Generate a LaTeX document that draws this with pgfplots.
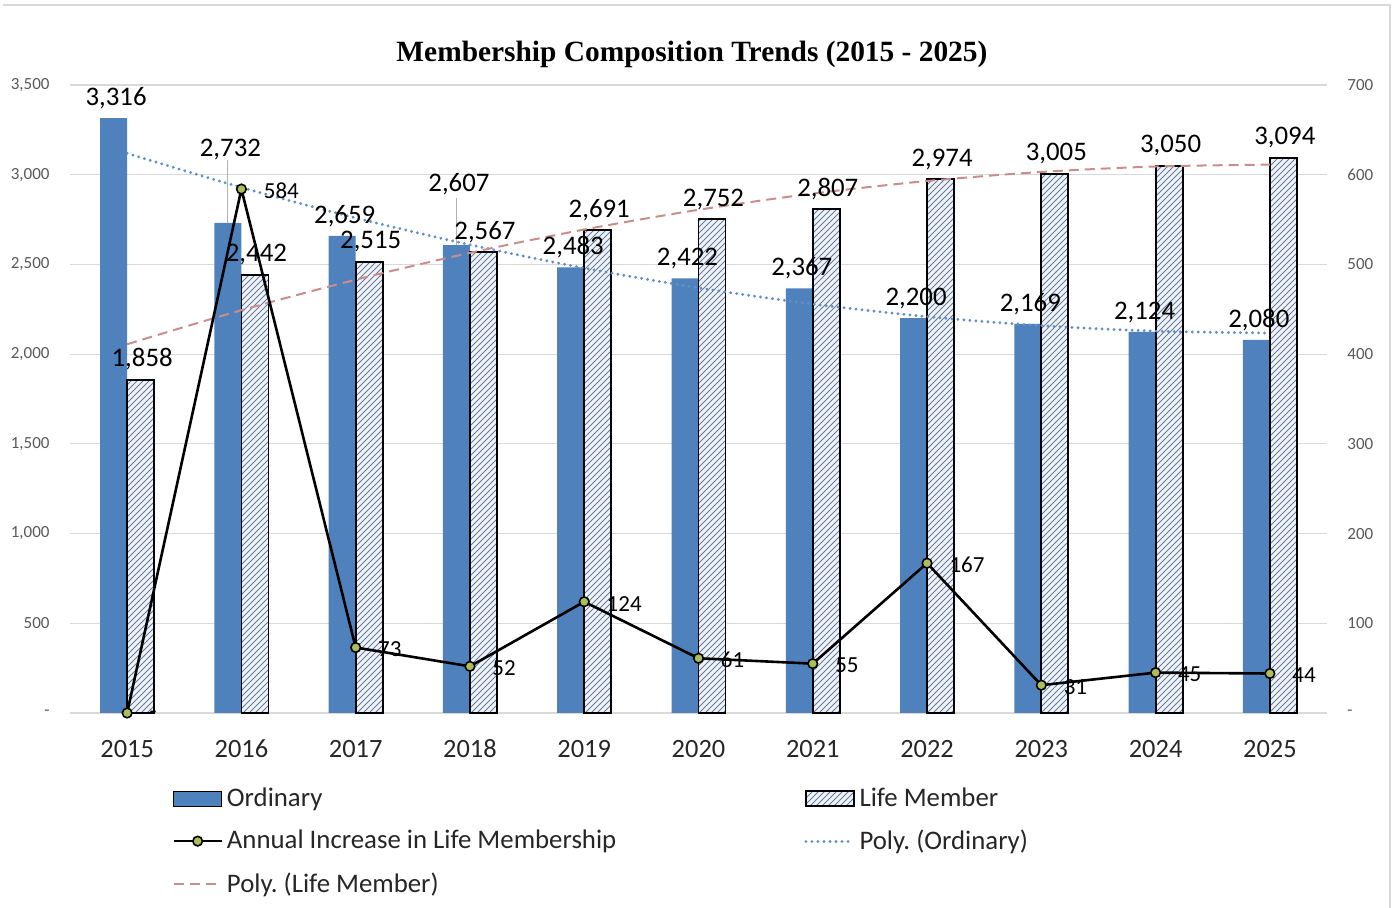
\documentclass[border=0pt]{standalone}
\usepackage{fontspec}
\setmainfont{Carlito}
\newfontfamily\titlefont{Liberation Serif}
\usepackage{pgfplots}
\usepackage{pgfplotstable}
\pgfplotsset{compat=1.18}
\usetikzlibrary{patterns}
\frenchspacing

\definecolor{ordblue}{RGB}{79,129,189}
\definecolor{hatch}{RGB}{105,125,155}
\definecolor{hatchbg}{RGB}{240,244,250}
\definecolor{trendblue}{RGB}{95,145,200}
\definecolor{trendrose}{RGB}{205,140,140}
\definecolor{markgreen}{RGB}{170,190,90}
\definecolor{gridgrey}{RGB}{217,217,217}
\definecolor{ticktext}{RGB}{89,89,89}
\definecolor{labeltext}{RGB}{38,38,38}

% members per year; lift = extra raise of the Ordinary label (pt)
\pgfplotstableread{
idx year ordinary life lift
0  2015 3316 1858 1
1  2016 2732 2442 28
2  2017 2659 2515 1
3  2018 2607 2567 21.5
4  2019 2483 2691 1
5  2020 2422 2752 1
6  2021 2367 2807 1
7  2022 2200 2974 1
8  2023 2169 3005 1
9  2024 2124 3050 1
10 2025 2080 3094 1
}\membership

\pgfplotstableread{
idx inc lab
0  0   -
1  584 584
2  73  73
3  52  52
4  124 124
5  61  61
6  55  55
7  167 167
8  31  31
9  45  45
10 44  44
}\increase

% 2nd order polynomial trend values
\pgfplotstableread{
idx polyord polylife
0  3118.7 2055.3
1  2929.1 2244.9
2  2759.3 2414.7
3  2609.5 2564.5
4  2479.5 2694.5
5  2369.5 2804.5
6  2279.3 2894.7
7  2209.1 2964.9
8  2158.7 3015.3
9  2128.3 3045.7
10 2117.7 3056.3
}\trend

\pgfplotsset{
  base/.style={
    at={(0,0)}, anchor=south west,
    scale only axis, width=628.5pt, height=314pt,
    xmin=-0.5, xmax=10.5,
    axis line style={draw=none},
    major tick length=0pt,
    clip=false,
  },
  barleg/.style={legend image code/.code={\draw[##1] (0pt,-3.75pt) rectangle (24pt,3.75pt);}},
  lineleg/.style={legend image code/.code={\draw[##1] (0pt,0pt) -- (24pt,0pt);}},
  markleg/.style={legend image code/.code={\draw[mark repeat=2, mark phase=2, ##1] plot coordinates {(0pt,0pt) (12pt,0pt) (24pt,0pt)};}},
}

\begin{document}
\begin{tikzpicture}
\useasboundingbox (-35pt,-97.5pt) rectangle (662.5pt,356.5pt);
\draw[gridgrey, line width=1pt] (-33.5pt,353.75pt) -- (659.75pt,353.75pt) -- (659.75pt,-97.5pt);

\begin{axis}[
  base,
  ymin=0, ymax=3500,
  xtick={0,...,10},
  xticklabels={2015,2016,2017,2018,2019,2020,2021,2022,2023,2024,2025},
  xticklabel style={font=\fontsize{13.2}{15}\selectfont, text=labeltext, yshift=-9.5pt,
    text height=9pt, text depth=0pt},
  ytick={0,500,...,3500},
  yticklabels={-,500,{1,000},{1,500},{2,000},{2,500},{3,000},{3,500}},
  yticklabel style={font=\fontsize{8.5}{10}\selectfont, text=ticktext, xshift=-6.7pt},
  ymajorgrids, grid style={gridgrey, line width=0.6pt},
  /pgf/number format/.cd, 1000 sep={,}, assume math mode=true, /pgfplots/.cd,
  legend columns=2,
  legend style={at={(axis description cs:0.0811,-0.112)}, anchor=north west,
    draw=none, fill=none, inner sep=0pt, row sep=6.25pt,
    font=\fontsize{13.4}{15}\selectfont, text=labeltext,
    /tikz/column 2/.style={column sep=92pt}},
  legend cell align=left,
]
\addplot[ybar, bar width=13.5pt, bar shift=-6.75pt, fill=ordblue, draw=none, barleg,
  visualization depends on={\thisrow{lift}\as\lift},
  nodes near coords,
  every node near coord/.append style={anchor=south, font=\fontsize{13.4}{15}\selectfont, text=black,
    xshift=-5.5pt, yshift=\lift pt}]
  table[x=idx, y=ordinary] {\membership};
\addplot[ybar, bar width=13.5pt, bar shift=6.75pt, preaction={fill=hatchbg},
  pattern=north east lines, pattern color=hatch, draw=black, line width=0.9pt, barleg,
  nodes near coords,
  every node near coord/.append style={anchor=south, font=\fontsize{13.4}{15}\selectfont, text=black,
    xshift=7.5pt, yshift=1pt}]
  table[x=idx, y=life] {\membership};
\addlegendimage{black, line width=1.3pt, mark=*, mark size=2.4pt,
  mark options={fill=markgreen, draw=black, line width=0.8pt}, markleg}
\addplot[trendblue, line width=1.6pt, line cap=round, dash pattern=on 0.01pt off 3pt, smooth, lineleg]
  table[x=idx, y=polyord] {\trend};
\addplot[trendrose, line width=1pt, dash pattern=on 5pt off 3pt, smooth, lineleg]
  table[x=idx, y=polylife] {\trend};
\legend{Ordinary, Life Member, Annual Increase in Life Membership, Poly. (Ordinary), Poly. (Life Member)}

\draw[gray!60, line width=0.5pt] ([xshift=-6.75pt]axis cs:1,2732) -- ++(0pt,31.5pt);
\draw[gray!60, line width=0.5pt] ([xshift=-6.75pt]axis cs:3,2607) -- ++(0pt,23.5pt);

\node[font=\titlefont\bfseries\fontsize{14.7}{17}\selectfont, text=black]
  at (rel axis cs:0.4948,1) [yshift=15.5pt] {Membership Composition Trends (2015 - 2025)};
\end{axis}

\begin{axis}[
  base,
  ymin=0, ymax=700,
  axis x line=none,
  axis y line*=right,
  ytick={0,100,...,700},
  yticklabels={-,100,200,300,400,500,600,700},
  yticklabel style={font=\fontsize{8.5}{10}\selectfont, text=ticktext, xshift=6.7pt},
]
\addplot[black, line width=1.3pt, mark=*, mark size=2.4pt,
  mark options={fill=markgreen, draw=black, line width=0.8pt},
  point meta=explicit symbolic, nodes near coords,
  every node near coord/.append style={anchor=west, xshift=7.5pt, yshift=-1pt,
    font=\fontsize{11.5}{13}\selectfont, text=black}]
  table[x=idx, y=inc, meta=lab] {\increase};
\end{axis}
\end{tikzpicture}
\end{document}
